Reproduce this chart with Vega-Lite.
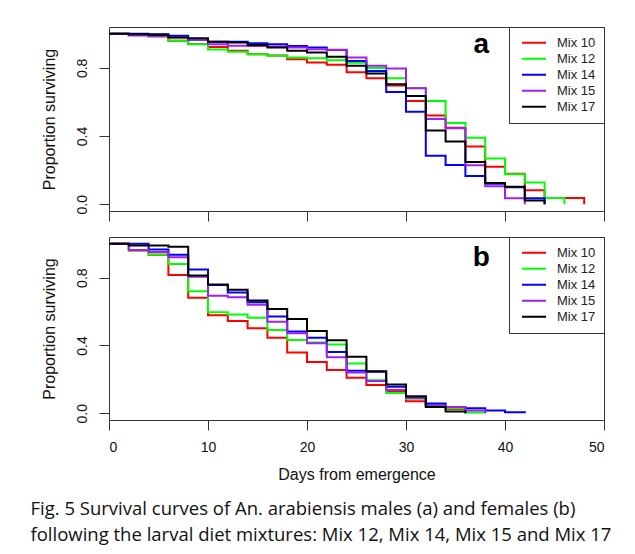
{
  "$schema": "https://vega.github.io/schema/vega-lite/v6.json",
  "background": "white",
  "padding": {"left": 30, "top": 26, "right": 10, "bottom": 2},
  "config": {
    "view": {"stroke": "#333", "strokeWidth": 1},
    "font": "Liberation Sans",
    "axis": {"domain": false, "grid": false, "tickColor": "#333", "tickSize": 10, "labelFont": "Liberation Sans", "labelFontSize": 14, "labelColor": "#111", "titleFont": "Liberation Sans", "titleFontSize": 16, "titleFontWeight": "normal", "titleColor": "#111"},
    "legend": {"orient": "top-right", "offset": 0, "strokeColor": "#333", "fillColor": "white", "padding": 8, "symbolType": "stroke", "symbolStrokeWidth": 2, "symbolSize": 576, "symbolOffset": 4, "labelFont": "Liberation Sans", "labelFontSize": 13, "labelColor": "#222", "labelOffset": 10, "rowPadding": 0, "clipHeight": 15.6}
  },
  "datasets": {
    "a": [
      {"m": "Mix 10", "d": 0, "s": 1}, {"m": "Mix 10", "d": 2, "s": 0.995}, {"m": "Mix 10", "d": 4, "s": 0.985}, {"m": "Mix 10", "d": 6, "s": 0.96}, {"m": "Mix 10", "d": 8, "s": 0.94}, {"m": "Mix 10", "d": 10, "s": 0.922}, {"m": "Mix 10", "d": 12, "s": 0.9}, {"m": "Mix 10", "d": 14, "s": 0.88}, {"m": "Mix 10", "d": 16, "s": 0.872}, {"m": "Mix 10", "d": 18, "s": 0.85}, {"m": "Mix 10", "d": 20, "s": 0.832}, {"m": "Mix 10", "d": 22, "s": 0.818}, {"m": "Mix 10", "d": 24, "s": 0.775}, {"m": "Mix 10", "d": 26, "s": 0.739}, {"m": "Mix 10", "d": 28, "s": 0.697}, {"m": "Mix 10", "d": 30, "s": 0.606}, {"m": "Mix 10", "d": 32, "s": 0.52}, {"m": "Mix 10", "d": 34, "s": 0.449}, {"m": "Mix 10", "d": 36, "s": 0.338}, {"m": "Mix 10", "d": 38, "s": 0.22}, {"m": "Mix 10", "d": 40, "s": 0.178}, {"m": "Mix 10", "d": 42, "s": 0.082}, {"m": "Mix 10", "d": 44, "s": 0.036}, {"m": "Mix 10", "d": 48, "s": 0},
      {"m": "Mix 12", "d": 0, "s": 1}, {"m": "Mix 12", "d": 2, "s": 0.995}, {"m": "Mix 12", "d": 4, "s": 0.985}, {"m": "Mix 12", "d": 6, "s": 0.959}, {"m": "Mix 12", "d": 8, "s": 0.939}, {"m": "Mix 12", "d": 10, "s": 0.908}, {"m": "Mix 12", "d": 12, "s": 0.894}, {"m": "Mix 12", "d": 14, "s": 0.88}, {"m": "Mix 12", "d": 16, "s": 0.871}, {"m": "Mix 12", "d": 18, "s": 0.861}, {"m": "Mix 12", "d": 20, "s": 0.857}, {"m": "Mix 12", "d": 22, "s": 0.845}, {"m": "Mix 12", "d": 24, "s": 0.83}, {"m": "Mix 12", "d": 26, "s": 0.8}, {"m": "Mix 12", "d": 28, "s": 0.739}, {"m": "Mix 12", "d": 30, "s": 0.682}, {"m": "Mix 12", "d": 32, "s": 0.605}, {"m": "Mix 12", "d": 34, "s": 0.477}, {"m": "Mix 12", "d": 36, "s": 0.39}, {"m": "Mix 12", "d": 38, "s": 0.268}, {"m": "Mix 12", "d": 40, "s": 0.175}, {"m": "Mix 12", "d": 42, "s": 0.127}, {"m": "Mix 12", "d": 44, "s": 0.036}, {"m": "Mix 12", "d": 46, "s": 0},
      {"m": "Mix 14", "d": 0, "s": 1}, {"m": "Mix 14", "d": 4, "s": 0.998}, {"m": "Mix 14", "d": 6, "s": 0.988}, {"m": "Mix 14", "d": 8, "s": 0.965}, {"m": "Mix 14", "d": 10, "s": 0.953}, {"m": "Mix 14", "d": 14, "s": 0.945}, {"m": "Mix 14", "d": 16, "s": 0.939}, {"m": "Mix 14", "d": 18, "s": 0.929}, {"m": "Mix 14", "d": 20, "s": 0.92}, {"m": "Mix 14", "d": 22, "s": 0.905}, {"m": "Mix 14", "d": 24, "s": 0.841}, {"m": "Mix 14", "d": 26, "s": 0.782}, {"m": "Mix 14", "d": 28, "s": 0.659}, {"m": "Mix 14", "d": 30, "s": 0.542}, {"m": "Mix 14", "d": 32, "s": 0.285}, {"m": "Mix 14", "d": 34, "s": 0.23}, {"m": "Mix 14", "d": 36, "s": 0.165}, {"m": "Mix 14", "d": 38, "s": 0.12}, {"m": "Mix 14", "d": 40, "s": 0.1}, {"m": "Mix 14", "d": 42, "s": 0.035}, {"m": "Mix 14", "d": 44, "s": 0},
      {"m": "Mix 15", "d": 0, "s": 1}, {"m": "Mix 15", "d": 2, "s": 0.99}, {"m": "Mix 15", "d": 4, "s": 0.985}, {"m": "Mix 15", "d": 6, "s": 0.98}, {"m": "Mix 15", "d": 8, "s": 0.965}, {"m": "Mix 15", "d": 10, "s": 0.939}, {"m": "Mix 15", "d": 12, "s": 0.93}, {"m": "Mix 15", "d": 14, "s": 0.928}, {"m": "Mix 15", "d": 16, "s": 0.925}, {"m": "Mix 15", "d": 18, "s": 0.92}, {"m": "Mix 15", "d": 20, "s": 0.91}, {"m": "Mix 15", "d": 22, "s": 0.907}, {"m": "Mix 15", "d": 24, "s": 0.861}, {"m": "Mix 15", "d": 26, "s": 0.812}, {"m": "Mix 15", "d": 28, "s": 0.797}, {"m": "Mix 15", "d": 30, "s": 0.68}, {"m": "Mix 15", "d": 32, "s": 0.5}, {"m": "Mix 15", "d": 34, "s": 0.446}, {"m": "Mix 15", "d": 36, "s": 0.229}, {"m": "Mix 15", "d": 38, "s": 0.105}, {"m": "Mix 15", "d": 40, "s": 0.035}, {"m": "Mix 15", "d": 42, "s": 0},
      {"m": "Mix 17", "d": 0, "s": 1}, {"m": "Mix 17", "d": 2, "s": 0.997}, {"m": "Mix 17", "d": 4, "s": 0.995}, {"m": "Mix 17", "d": 6, "s": 0.978}, {"m": "Mix 17", "d": 8, "s": 0.974}, {"m": "Mix 17", "d": 10, "s": 0.953}, {"m": "Mix 17", "d": 12, "s": 0.949}, {"m": "Mix 17", "d": 14, "s": 0.935}, {"m": "Mix 17", "d": 16, "s": 0.92}, {"m": "Mix 17", "d": 18, "s": 0.9}, {"m": "Mix 17", "d": 20, "s": 0.89}, {"m": "Mix 17", "d": 22, "s": 0.865}, {"m": "Mix 17", "d": 24, "s": 0.812}, {"m": "Mix 17", "d": 26, "s": 0.767}, {"m": "Mix 17", "d": 28, "s": 0.704}, {"m": "Mix 17", "d": 30, "s": 0.635}, {"m": "Mix 17", "d": 32, "s": 0.433}, {"m": "Mix 17", "d": 34, "s": 0.368}, {"m": "Mix 17", "d": 36, "s": 0.248}, {"m": "Mix 17", "d": 38, "s": 0.124}, {"m": "Mix 17", "d": 40, "s": 0.102}, {"m": "Mix 17", "d": 42, "s": 0.022}, {"m": "Mix 17", "d": 44, "s": 0}
    ],
    "b": [
      {"m": "Mix 10", "d": 0, "s": 1}, {"m": "Mix 10", "d": 2, "s": 0.96}, {"m": "Mix 10", "d": 4, "s": 0.935}, {"m": "Mix 10", "d": 6, "s": 0.816}, {"m": "Mix 10", "d": 8, "s": 0.682}, {"m": "Mix 10", "d": 10, "s": 0.578}, {"m": "Mix 10", "d": 12, "s": 0.545}, {"m": "Mix 10", "d": 14, "s": 0.502}, {"m": "Mix 10", "d": 16, "s": 0.445}, {"m": "Mix 10", "d": 18, "s": 0.359}, {"m": "Mix 10", "d": 20, "s": 0.302}, {"m": "Mix 10", "d": 22, "s": 0.255}, {"m": "Mix 10", "d": 24, "s": 0.21}, {"m": "Mix 10", "d": 26, "s": 0.166}, {"m": "Mix 10", "d": 28, "s": 0.13}, {"m": "Mix 10", "d": 30, "s": 0.07}, {"m": "Mix 10", "d": 32, "s": 0.045}, {"m": "Mix 10", "d": 34, "s": 0.025}, {"m": "Mix 10", "d": 36, "s": 0},
      {"m": "Mix 12", "d": 0, "s": 1}, {"m": "Mix 12", "d": 2, "s": 0.962}, {"m": "Mix 12", "d": 4, "s": 0.937}, {"m": "Mix 12", "d": 6, "s": 0.88}, {"m": "Mix 12", "d": 8, "s": 0.72}, {"m": "Mix 12", "d": 10, "s": 0.596}, {"m": "Mix 12", "d": 12, "s": 0.583}, {"m": "Mix 12", "d": 14, "s": 0.564}, {"m": "Mix 12", "d": 16, "s": 0.491}, {"m": "Mix 12", "d": 18, "s": 0.432}, {"m": "Mix 12", "d": 20, "s": 0.418}, {"m": "Mix 12", "d": 22, "s": 0.405}, {"m": "Mix 12", "d": 24, "s": 0.294}, {"m": "Mix 12", "d": 26, "s": 0.195}, {"m": "Mix 12", "d": 28, "s": 0.12}, {"m": "Mix 12", "d": 30, "s": 0.085}, {"m": "Mix 12", "d": 32, "s": 0.05}, {"m": "Mix 12", "d": 34, "s": 0.03}, {"m": "Mix 12", "d": 36, "s": 0.005}, {"m": "Mix 12", "d": 38, "s": 0},
      {"m": "Mix 14", "d": 0, "s": 1}, {"m": "Mix 14", "d": 4, "s": 0.966}, {"m": "Mix 14", "d": 6, "s": 0.935}, {"m": "Mix 14", "d": 8, "s": 0.848}, {"m": "Mix 14", "d": 10, "s": 0.757}, {"m": "Mix 14", "d": 12, "s": 0.712}, {"m": "Mix 14", "d": 14, "s": 0.655}, {"m": "Mix 14", "d": 16, "s": 0.571}, {"m": "Mix 14", "d": 18, "s": 0.482}, {"m": "Mix 14", "d": 20, "s": 0.445}, {"m": "Mix 14", "d": 22, "s": 0.362}, {"m": "Mix 14", "d": 24, "s": 0.25}, {"m": "Mix 14", "d": 26, "s": 0.245}, {"m": "Mix 14", "d": 28, "s": 0.156}, {"m": "Mix 14", "d": 30, "s": 0.098}, {"m": "Mix 14", "d": 32, "s": 0.058}, {"m": "Mix 14", "d": 34, "s": 0.036}, {"m": "Mix 14", "d": 36, "s": 0.03}, {"m": "Mix 14", "d": 38, "s": 0.016}, {"m": "Mix 14", "d": 40, "s": 0.006}, {"m": "Mix 14", "d": 42, "s": 0},
      {"m": "Mix 15", "d": 0, "s": 1}, {"m": "Mix 15", "d": 2, "s": 0.964}, {"m": "Mix 15", "d": 4, "s": 0.951}, {"m": "Mix 15", "d": 6, "s": 0.92}, {"m": "Mix 15", "d": 8, "s": 0.805}, {"m": "Mix 15", "d": 10, "s": 0.694}, {"m": "Mix 15", "d": 12, "s": 0.684}, {"m": "Mix 15", "d": 14, "s": 0.64}, {"m": "Mix 15", "d": 16, "s": 0.54}, {"m": "Mix 15", "d": 18, "s": 0.472}, {"m": "Mix 15", "d": 20, "s": 0.413}, {"m": "Mix 15", "d": 22, "s": 0.33}, {"m": "Mix 15", "d": 24, "s": 0.24}, {"m": "Mix 15", "d": 26, "s": 0.19}, {"m": "Mix 15", "d": 28, "s": 0.137}, {"m": "Mix 15", "d": 30, "s": 0.09}, {"m": "Mix 15", "d": 32, "s": 0.045}, {"m": "Mix 15", "d": 34, "s": 0.036}, {"m": "Mix 15", "d": 36, "s": 0.016}, {"m": "Mix 15", "d": 38, "s": 0},
      {"m": "Mix 17", "d": 0, "s": 1}, {"m": "Mix 17", "d": 2, "s": 0.99}, {"m": "Mix 17", "d": 6, "s": 0.982}, {"m": "Mix 17", "d": 8, "s": 0.813}, {"m": "Mix 17", "d": 10, "s": 0.759}, {"m": "Mix 17", "d": 12, "s": 0.728}, {"m": "Mix 17", "d": 14, "s": 0.665}, {"m": "Mix 17", "d": 16, "s": 0.615}, {"m": "Mix 17", "d": 18, "s": 0.556}, {"m": "Mix 17", "d": 20, "s": 0.485}, {"m": "Mix 17", "d": 22, "s": 0.431}, {"m": "Mix 17", "d": 24, "s": 0.333}, {"m": "Mix 17", "d": 26, "s": 0.248}, {"m": "Mix 17", "d": 28, "s": 0.17}, {"m": "Mix 17", "d": 30, "s": 0.098}, {"m": "Mix 17", "d": 32, "s": 0.037}, {"m": "Mix 17", "d": 34, "s": 0.01}, {"m": "Mix 17", "d": 36, "s": 0}
    ],
    "labels": [{"panel": "a"}, {"panel": "b"}]
  },
  "title": {
    "text": ["Fig. 5 Survival curves of An. arabiensis males (a) and females (b)", "following the larval diet mixtures: Mix 12, Mix 14, Mix 15 and Mix 17"],
    "orient": "bottom", "anchor": "start", "frame": "bounds", "dx": -10, "offset": 17,
    "font": "Open Sans", "fontSize": 18.5, "fontWeight": "normal", "color": "#111", "lineHeight": 26
  },
  "spacing": 14,
  "resolve": {"legend": {"color": "independent"}},
  "vconcat": [
    {
      "width": 495, "height": 184,
      "layer": [
        {
          "data": {"name": "a"},
          "mark": {"type": "line", "interpolate": "step-after", "strokeWidth": 2},
          "encoding": {
            "x": {"field": "d", "type": "quantitative", "scale": {"domain": [0, 50], "nice": false, "zero": false}, "axis": {"values": [0, 10, 20, 30, 40, 50], "labels": false, "title": null}},
            "y": {"field": "s", "type": "quantitative", "scale": {"domain": [-0.04, 1.04], "nice": false, "zero": false}, "axis": {"values": [0, 0.2, 0.4, 0.6, 0.8, 1], "format": ".1f", "labelExpr": "indexof(['0.0','0.4','0.8'], datum.label) >= 0 ? datum.label : ''", "labelAngle": -90, "labelPadding": 10, "title": "Proportion surviving", "titlePadding": 18}},
            "color": {"field": "m", "type": "nominal", "scale": {"domain": ["Mix 10", "Mix 12", "Mix 14", "Mix 15", "Mix 17"], "range": ["#FF0000", "#00FF00", "#0000FF", "#A020F0", "#000000"]}, "legend": {"title": null}}
          }
        },
        {
          "data": {"name": "labels"},
          "transform": [{"filter": "datum.panel == 'a'"}],
          "mark": {"type": "text", "fontSize": 28, "fontWeight": "bold", "font": "Liberation Sans", "align": "center", "baseline": "alphabetic", "color": "black"},
          "encoding": {"x": {"datum": 37.6}, "y": {"datum": 0.888}, "text": {"field": "panel"}}
        }
      ]
    },
    {
      "width": 495, "height": 183,
      "layer": [
        {
          "data": {"name": "b"},
          "mark": {"type": "line", "interpolate": "step-after", "strokeWidth": 2},
          "encoding": {
            "x": {"field": "d", "type": "quantitative", "scale": {"domain": [0, 50], "nice": false, "zero": false}, "axis": {"values": [0, 10, 20, 30, 40, 50], "labelPadding": 10, "title": "Days from emergence", "titlePadding": 12}},
            "y": {"field": "s", "type": "quantitative", "scale": {"domain": [-0.04, 1.04], "nice": false, "zero": false}, "axis": {"values": [0, 0.2, 0.4, 0.6, 0.8, 1], "format": ".1f", "labelExpr": "indexof(['0.0','0.4','0.8'], datum.label) >= 0 ? datum.label : ''", "labelAngle": -90, "labelPadding": 10, "title": "Proportion surviving", "titlePadding": 18}},
            "color": {"field": "m", "type": "nominal", "scale": {"domain": ["Mix 10", "Mix 12", "Mix 14", "Mix 15", "Mix 17"], "range": ["#FF0000", "#00FF00", "#0000FF", "#A020F0", "#000000"]}, "legend": {"title": null}}
          }
        },
        {
          "data": {"name": "labels"},
          "transform": [{"filter": "datum.panel == 'b'"}],
          "mark": {"type": "text", "fontSize": 28, "fontWeight": "bold", "font": "Liberation Sans", "align": "center", "baseline": "alphabetic", "color": "black"},
          "encoding": {"x": {"datum": 37.6}, "y": {"datum": 0.87}, "text": {"field": "panel"}}
        }
      ]
    }
  ]
}
